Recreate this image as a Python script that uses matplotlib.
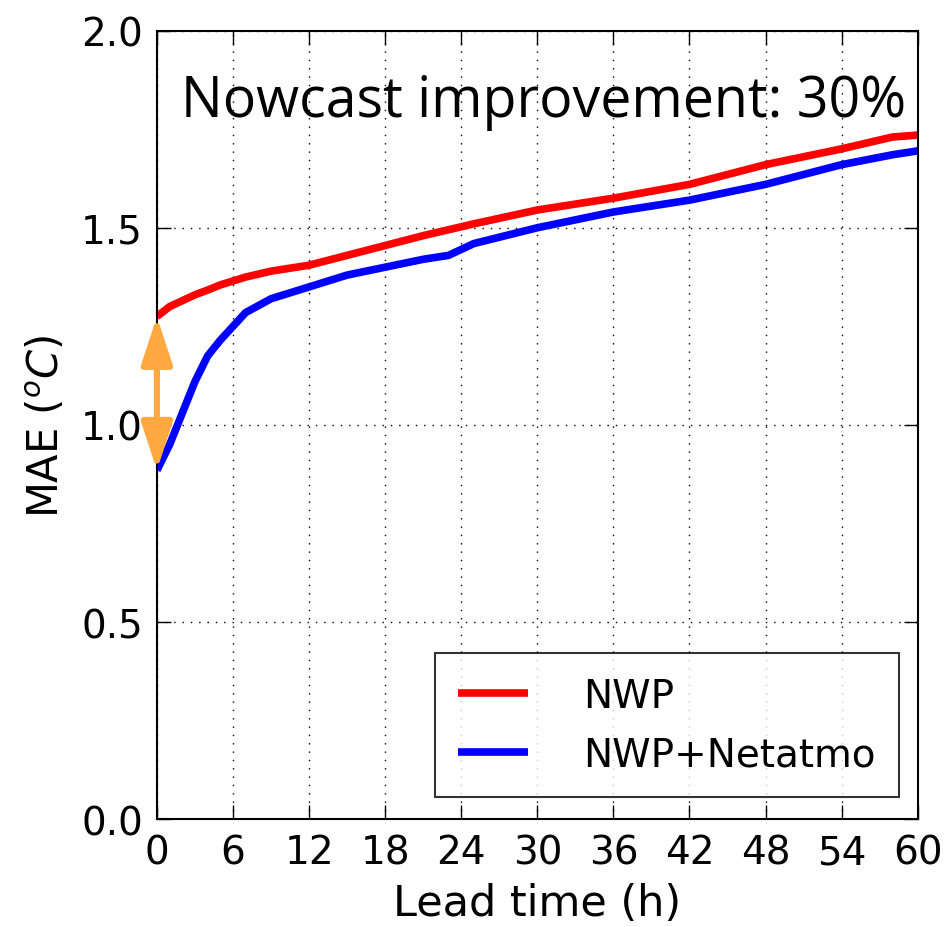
import matplotlib
matplotlib.use("Agg")
import matplotlib.pyplot as plt

lead = [0, 1, 2, 3, 4, 5, 6, 7, 9, 12, 15, 18, 21, 23, 25, 30, 36, 42, 48, 54, 58, 60]
mae_nwp = [1.275, 1.30, 1.315, 1.33, 1.342, 1.355, 1.365, 1.375, 1.39, 1.405, 1.43, 1.455,
           1.48, 1.495, 1.51, 1.545, 1.575, 1.61, 1.66, 1.70, 1.73, 1.735]
mae_net = [0.885, 0.95, 1.03, 1.11, 1.175, 1.215, 1.25, 1.285, 1.32, 1.35, 1.38, 1.40,
           1.42, 1.43, 1.46, 1.50, 1.54, 1.57, 1.61, 1.66, 1.685, 1.695]
xticks = list(range(0, 61, 6))
yticks = [0.0, 0.5, 1.0, 1.5, 2.0]
note = "Nowcast improvement: 30%"

plt.rcParams['font.family'] = ['DejaVu Sans']
fig = plt.figure(figsize=(9.51, 9.28), dpi=100)
ax = fig.add_axes([0.165, 0.116, 0.800, 0.850])

ax.plot(lead, mae_nwp, color='red', lw=5.5, label='NWP', solid_capstyle='butt')
ax.plot(lead, mae_net, color='blue', lw=5.5, label='NWP+Netatmo', solid_capstyle='butt')

ax.annotate('', xy=(0, mae_net[0]), xytext=(0, mae_nwp[0]),
            arrowprops=dict(arrowstyle='<|-|>,head_length=2.9,head_width=0.95',
                            color='#FFA940', lw=4.5, shrinkA=0, shrinkB=0))

ax.set_xlim(0, 60)
ax.set_ylim(0, 2.0)
ax.set_xticks(xticks)
ax.set_yticks(yticks)
ax.set_yticklabels(['%.1f' % v for v in yticks])
ax.tick_params(direction='in', labelsize=28, length=10, width=1, top=True, right=True, pad=10)
ax.grid(True, color='black', linestyle=(0, (1, 5)), lw=1)
for s in ax.spines.values():
    s.set_linewidth(1.5)

ax.set_xlabel('Lead time (h)', fontsize=31, labelpad=8)
ax.set_ylabel('MAE ($^oC$)', fontsize=30, labelpad=10)

ax.text(0.985, 0.91, note, transform=ax.transAxes, ha='right', va='center',
        fontsize=40, family=['Liberation Sans Narrow', 'Open Sans', 'DejaVu Sans'])

leg = ax.legend(loc='lower right', fontsize=28, frameon=True, fancybox=False,
                handlelength=1.8, handletextpad=1.4, borderpad=0.6, labelspacing=0.55,
                borderaxespad=0, bbox_to_anchor=(0.975, 0.028))
leg.get_frame().set_edgecolor('black')
leg.get_frame().set_linewidth(1.5)

fig.savefig('out.png', dpi=100)
